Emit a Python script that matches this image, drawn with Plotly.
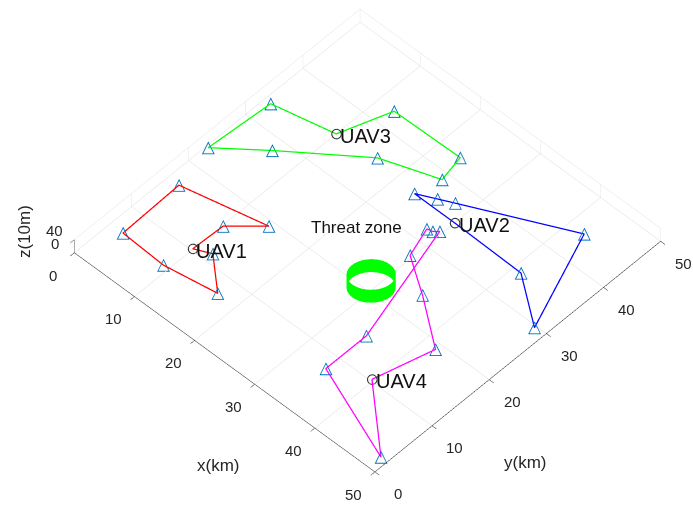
import numpy as np
import plotly.graph_objects as go

# ---------------- data (km, altitude in 10 m) ----------------
uav1_x = [10.1, 12.4, 17.1, 9.3, 2.3, 2.0, 14.3, 10.3, 10.1]
uav1_y = [10.1, 11.2, 7.1, 5.8, 6.1, 16.2, 19.0, 15.2, 10.1]
uav1_z = [5, 5, 5, 5, 5, 5, 5, 5, 5]

uav2_x = [30.2, 41.4, 48.5, 42.7, 28.1, 26.1, 23.5, 30.2]
uav2_y = [34.8, 34.6, 29.5, 44.3, 37.1, 36.1, 34.8, 34.8]
uav2_z = [5, 5, 5, 5, 5, 5, 5, 5]

uav3_x = [10.2, 12.8, 23.6, 24.4, 16.4, 6.4, 0.5, 1.2, 10.2]
uav3_y = [35.1, 42.5, 42.7, 38.7, 35.8, 27.9, 22.9, 33.1, 35.1]
uav3_z = [5, 5, 5, 5, 5, 5, 5, 5, 5]

uav4_x = [39.9, 42.2, 35.2, 29.8, 28.4, 29.2, 29.8, 34.7, 34.7, 49.1, 39.9]
uav4_y = [10.1, 18.8, 23.9, 27.4, 31.8, 32.0, 32.6, 14.6, 7.5, 2.0, 10.1]
uav4_z = [5, 5, 5, 5, 5, 5, 5, 5, 5, 5, 5]

uav_names = ["UAV1", "UAV2", "UAV3", "UAV4"]
uav_colors = ["#FF0000", "#0000FF", "#00FF00", "#FF00FF"]

# threat zone (cylinder)
threat_center = [29.7, 20.7]
threat_half_axes = [2.1, 1.7]
threat_z = [0, 40]
threat_label = "Threat zone"
threat_label_pos = [22.2, 26.1, 5]

x_ticks = [0, 10, 20, 30, 40, 50]
y_ticks = [0, 10, 20, 30, 40, 50]
z_ticks = [0, 40]

paths = [(uav1_x, uav1_y, uav1_z), (uav2_x, uav2_y, uav2_z),
         (uav3_x, uav3_y, uav3_z), (uav4_x, uav4_y, uav4_z)]

fig = go.Figure()

# threat zone cylinder
t = np.linspace(0, 2 * np.pi, 80)
cx = threat_center[0] + threat_half_axes[0] * np.cos(t) + threat_half_axes[1] * np.sin(t)
cy = threat_center[1] + threat_half_axes[0] * np.cos(t) - threat_half_axes[1] * np.sin(t)
X = np.vstack([cx, cx])
Y = np.vstack([cy, cy])
Z = np.vstack([np.full_like(t, threat_z[0]), np.full_like(t, threat_z[1])])
fig.add_trace(go.Surface(x=X, y=Y, z=Z, surfacecolor=np.zeros_like(Z),
                         colorscale=[[0, "#00FF00"], [1, "#00FF00"]], showscale=False,
                         lighting=dict(ambient=1, diffuse=0, specular=0, fresnel=0, roughness=1),
                         hoverinfo="skip"))

label_font = dict(family="Liberation Sans", size=20, color="#111111")
scene_ann = []

for (px, py, pz), name, col in zip(paths, uav_names, uav_colors):
    fig.add_trace(go.Scatter3d(x=px, y=py, z=pz, mode="lines",
                               line=dict(color=col, width=2.5), hoverinfo="skip"))
    fig.add_trace(go.Scatter3d(x=px[1:-1], y=py[1:-1], z=pz[1:-1], mode="text",
                               text=["△"] * (len(px) - 2),
                               textfont=dict(family="DejaVu Sans", size=17, color="#0072BD"),
                               textposition="middle center", hoverinfo="skip"))
    fig.add_trace(go.Scatter3d(x=[px[0]], y=[py[0]], z=[pz[0]], mode="markers",
                               marker=dict(symbol="circle-open", size=6, color="#333333"),
                               hoverinfo="skip"))
    scene_ann.append(dict(x=px[0], y=py[0], z=pz[0], text=name, showarrow=False,
                          xanchor="left", yanchor="middle", xshift=2, yshift=-2,
                          font=label_font))

scene_ann.append(dict(x=threat_label_pos[0], y=threat_label_pos[1], z=threat_label_pos[2],
                      text=threat_label, showarrow=False, xanchor="center", yanchor="middle",
                      font=dict(family="Liberation Sans", size=17, color="#111111")))

axis_common = dict(showbackground=False, gridcolor="#DFDFDF", gridwidth=1,
                   showline=True, linecolor="#262626", linewidth=1,
                   ticks="outside", ticklen=6, tickcolor="#262626",
                   showticklabels=False,
                   zeroline=False, showspikes=False, title=dict(text=""))

tick_font = dict(family="Liberation Sans", size=15, color="#262626")
for v in x_ticks:
    scene_ann.append(dict(x=v, y=0, z=0, text=str(v), showarrow=False,
                          xshift=-21, yshift=-22.5, font=tick_font))
for v in y_ticks:
    scene_ann.append(dict(x=50, y=v, z=0, text=str(v), showarrow=False,
                          xshift=23, yshift=-22, font=tick_font))
for v in z_ticks:
    scene_ann.append(dict(x=0, y=0, z=v, text=str(v), showarrow=False,
                          xshift=-19, yshift=9, font=tick_font))

title_font = dict(family="Liberation Sans", size=17, color="#262626")
fig.update_layout(
    width=693, height=506, margin=dict(l=0, r=0, t=0, b=0),
    paper_bgcolor="white", showlegend=False,
    scene=dict(
        domain=dict(x=[0.06, 1.0], y=[0.05, 1.0]),
        xaxis=dict(range=[0, 50], tickvals=x_ticks, **axis_common),
        yaxis=dict(range=[0, 50], tickvals=y_ticks, **axis_common),
        zaxis=dict(range=[0, 40], tickvals=z_ticks, **axis_common),
        aspectmode="manual", aspectratio=dict(x=1.7245, y=1.7245, z=0.0845),
        camera=dict(eye=dict(x=0.663, y=-0.6975, z=1.1505), up=dict(x=0, y=0, z=1),
                    center=dict(x=0, y=0, z=0),
                    projection=dict(type="orthographic")),
        annotations=scene_ann,
    ),
    annotations=[
        dict(text="x(km)", x=218 / 693, y=1 - 465 / 506, xref="paper", yref="paper",
             xanchor="center", yanchor="middle", showarrow=False, font=title_font),
        dict(text="y(km)", x=525 / 693, y=1 - 462 / 506, xref="paper", yref="paper",
             xanchor="center", yanchor="middle", showarrow=False, font=title_font),
        dict(text="z(10m)", x=24 / 693, y=1 - 232 / 506, xref="paper", yref="paper",
             xanchor="center", yanchor="middle", textangle=-90, showarrow=False,
             font=title_font),
    ],
)

fig.write_html("out.html", config={"displayModeBar": False},
               post_script="document.body.style.margin='0px';")
